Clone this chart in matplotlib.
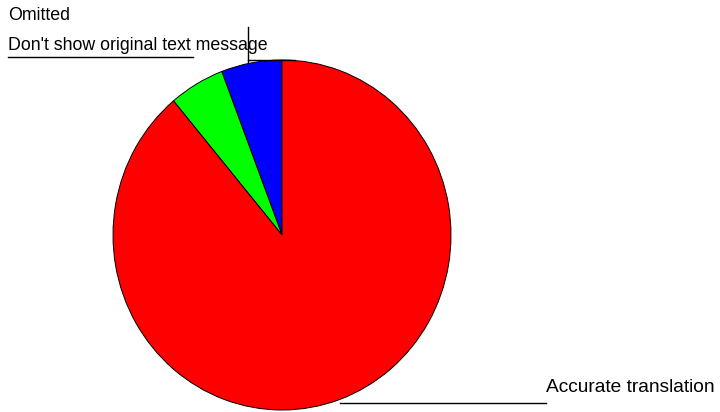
import matplotlib.pyplot as plt
from matplotlib.lines import Line2D

labels = ["Omitted", "Don't show original text message", "Accurate translation"]
values = [5.8, 5.3, 88.9]
colors = ["#0000ff", "#00ff00", "#ff0000"]

W, H = 720, 412
fig = plt.figure(figsize=(W / 100, H / 100), dpi=100)

# pie area in pixels: x 113..451, y 60..410
ax = fig.add_axes([113 / W, 1 - 410 / H, 338 / W, 350 / H])
ax.pie(values, colors=colors, startangle=90, counterclock=True, radius=1,
       wedgeprops=dict(edgecolor="black", linewidth=0.7))
ax.set_aspect("auto")
ax.set_xlim(-1, 1)
ax.set_ylim(-1, 1)
ax.axis("off")

def px(x, y):
    return x / W, 1 - y / H

fig.text(*px(8, 16), labels[0], va="center", ha="left",
         family="Liberation Sans", fontsize=12.8)
fig.text(*px(8, 46), labels[1], va="center", ha="left",
         family="Liberation Sans", fontsize=12.8)
fig.text(*px(546, 388), labels[2], va="center", ha="left",
         family="Liberation Sans", fontsize=13.8)

def seg(x0, y0, x1, y1):
    a = px(x0, y0)
    b = px(x1, y1)
    fig.add_artist(Line2D([a[0], b[0]], [a[1], b[1]], color="black", lw=1,
                          transform=fig.transFigure))

seg(8, 57, 193, 57)
seg(248, 27, 248, 62)
seg(248, 60, 295, 60)
seg(340, 403, 546, 403)

fig.savefig("out.png", dpi=100)
